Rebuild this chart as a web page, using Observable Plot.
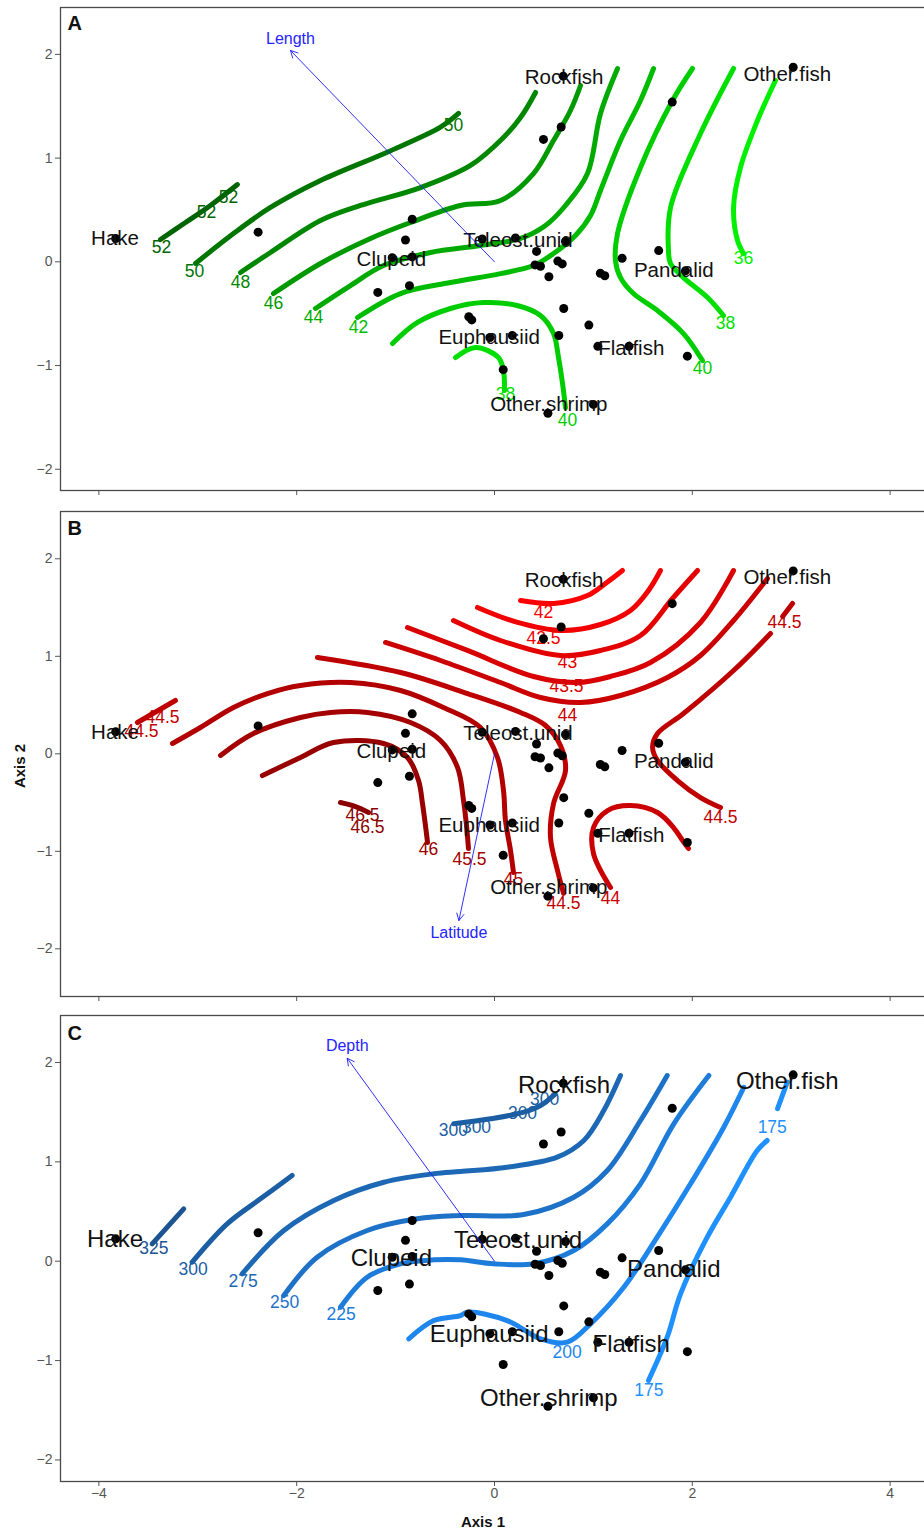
<!DOCTYPE html>
<html>
<head>
<meta charset="utf-8">
<script src="https://cdn.jsdelivr.net/npm/d3@7"></script>
<script src="https://cdn.jsdelivr.net/npm/@observablehq/plot@0.6"></script>
<style>
  body { margin: 0; background: #fff; }
  #fig { position: relative; width: 924px; height: 1535px; overflow: hidden;
         font-family: "Liberation Sans", Arial, Helvetica, sans-serif; }
  #fig svg.panel { position: absolute; left: 0; max-width: none !important; }
  .axis-title { position: absolute; font-weight: bold; font-size: 15px; color: #111;
                white-space: nowrap; line-height: 1; }
</style>
</head>
<body>
<div id="fig"></div>
<script>
// ---- species scores (labels) ----
const SPECIES = ["Hake", "Rockfish", "Other.fish", "Teleost.unid", "Clupeid",
                 "Pandalid", "Euphausiid", "Flatfish", "Other.shrimp"];
const SPECIES_AXIS1 = [-3.837, 0.703, 2.960, 0.238, -1.043, 1.813, -0.054, 1.383, 0.549];
const SPECIES_AXIS2 = [0.222, 1.775, 1.810, 0.210, 0.027, -0.080, -0.734, -0.835, -1.375];

// ---- site scores (black points) ----
const SITE_AXIS1 = [3.02, 1.797, 0.674, 0.495, 0.695, -0.124, 0.212, 0.718, 0.425, 0.41,
                    0.465, 0.64, 0.685, 0.55, 1.07, 1.115, 1.29, 1.66, 1.93, 0.70,
                    0.954, 0.65, 1.045, 1.36, 1.95, -0.26, -0.23, -0.047, 0.18, 0.088,
                    0.54, 1.0, -3.83, -2.39, -0.832, -0.90, -1.034, -0.832, -1.18, -0.86];
const SITE_AXIS2 = [1.876, 1.54, 1.30, 1.18, 1.79, 0.22, 0.23, 0.198, 0.10, -0.03,
                    -0.043, 0.007, -0.02, -0.144, -0.11, -0.134, 0.034, 0.108, -0.087, -0.45,
                    -0.61, -0.71, -0.815, -0.815, -0.91, -0.53, -0.56, -0.73, -0.71, -1.04,
                    -1.46, -1.375, 0.225, 0.286, 0.41, 0.21, 0.04, 0.047, -0.295, -0.23];

// ---- fitted environmental vectors ----
const VECTOR_NAMES = ["Length", "Latitude", "Depth"];
const VECTOR_AXIS1 = [-2.063, -0.360, -1.489];
const VECTOR_AXIS2 = [2.038, -1.710, 2.043];

// ---- fitted surfaces: contour pieces (level, path) ----
const LENGTH_CONTOURS = [
  {level: 52, axis1: [-3.377, -3.124, -2.872, -2.599], axis2: [0.215, 0.379, 0.543, 0.745]},
  {level: 50, axis1: [-3.023, -2.639, -2.265, -1.759, -1.085, -0.546, -0.364], axis2: [-0.016, 0.273, 0.524, 0.784, 1.057, 1.298, 1.430]},
  {level: 48, axis1: [-2.568, -2.265, -1.759, -1.355, -0.748, -0.243, 0.091, 0.263, 0.415], axis2: [-0.103, 0.090, 0.398, 0.543, 0.716, 0.929, 1.199, 1.391, 1.633]},
  {level: 46, axis1: [-2.235, -1.759, -1.254, -0.849, -0.344, 0.061, 0.394, 0.597, 0.768, 0.870], axis2: [-0.306, -0.016, 0.225, 0.379, 0.543, 0.591, 0.851, 1.170, 1.459, 1.700]},
  {level: 44, axis1: [-1.810, -1.456, -1.122, -0.647, -0.142, 0.263, 0.516, 0.718, 0.940, 1.072, 1.244], axis2: [-0.450, -0.229, -0.036, 0.090, 0.157, 0.225, 0.350, 0.543, 0.851, 1.430, 1.864]},
  {level: 42, axis1: [-1.385, -0.950, -0.445, 0.061, 0.394, 0.597, 0.819, 0.971, 1.072, 1.274, 1.476, 1.608], axis2: [-0.537, -0.306, -0.200, -0.114, -0.036, 0.080, 0.254, 0.446, 0.688, 1.170, 1.555, 1.864]},
  {level: 40, axis1: [-1.031, -0.779, -0.445, -0.111, 0.229, 0.465, 0.597, 0.647, 0.688, 0.718], axis2: [-0.788, -0.585, -0.450, -0.393, -0.421, -0.518, -0.692, -0.923, -1.174, -1.407]},
  {level: 40, axis1: [2.002, 1.800, 1.476, 1.244, 1.223, 1.274, 1.405, 1.648, 1.911, 2.103], axis2: [1.864, 1.555, 0.909, 0.273, 0.013, -0.152, -0.306, -0.470, -0.692, -0.952]},
  {level: 38, axis1: [-0.394, -0.192, 0.040, 0.091, 0.101], axis2: [-0.923, -0.826, -0.923, -1.054, -1.242]},
  {level: 38, axis1: [2.417, 2.083, 1.780, 1.759, 1.780, 1.911, 2.154, 2.315], axis2: [1.864, 1.237, 0.524, 0.109, -0.016, -0.152, -0.344, -0.518]},
  {level: 36, axis1: [2.841, 2.659, 2.487, 2.417, 2.457, 2.518], axis2: [1.748, 1.362, 0.909, 0.524, 0.205, 0.080]}
];
const LENGTH_LABEL_LEVEL = [52, 52, 52, 50, 50, 48, 46, 44, 42, 40, 40, 38, 38, 36];
const LENGTH_LABEL_AXIS1 = [-3.367, -2.912, -2.690, -3.033, -0.415, -2.568, -2.235, -1.830, -1.375, 0.738, 2.103, 0.111, 2.336, 2.518];
const LENGTH_LABEL_AXIS2 = [0.138, 0.475, 0.620, -0.094, 1.314, -0.200, -0.402, -0.537, -0.634, -1.532, -1.029, -1.280, -0.595, 0.032];

const LATITUDE_CONTOURS = [
  {level: 42, axis1: [0.263, 0.597, 0.940, 1.122, 1.294], axis2: [1.572, 1.542, 1.624, 1.747, 1.880]},
  {level: 42.5, axis1: [-0.172, 0.233, 0.667, 1.072, 1.375, 1.557, 1.678], axis2: [1.501, 1.347, 1.265, 1.326, 1.470, 1.675, 1.880]},
  {level: 43, axis1: [-0.415, 0.061, 0.667, 1.072, 1.476, 1.800, 2.053], axis2: [1.367, 1.162, 1.008, 1.060, 1.213, 1.593, 1.880]},
  {level: 43.5, axis1: [-0.880, -0.273, 0.394, 0.839, 1.173, 1.577, 2.083, 2.417], axis2: [1.295, 1.060, 0.793, 0.731, 0.793, 0.936, 1.347, 1.880]},
  {level: 44, axis1: [-1.102, -0.546, 0.061, 0.465, 0.870, 1.274, 1.749, 2.083, 2.417, 2.760], axis2: [1.142, 0.957, 0.731, 0.577, 0.526, 0.598, 0.783, 1.008, 1.367, 1.798]},
  {level: 44.5, axis1: [-1.790, -0.950, -0.273, 0.263, 0.516, 0.667, 0.718, 0.597, 0.566, 0.637, 0.698], axis2: [0.988, 0.834, 0.618, 0.424, 0.290, 0.085, -0.171, -0.510, -0.858, -1.197, -1.432]},
  {level: 44.5, axis1: [3.013, 2.913], axis2: [1.542, 1.408]},
  {level: 44.5, axis1: [2.791, 2.417, 1.911, 1.648, 1.598, 1.648, 1.850, 2.083, 2.285], axis2: [1.234, 0.854, 0.413, 0.208, 0.065, -0.068, -0.274, -0.449, -0.551]},
  {level: 44.5, axis1: [-3.610, -3.226], axis2: [0.321, 0.547]},
  {level: 44, axis1: [1.173, 1.001, 1.001, 1.143, 1.375, 1.648, 1.810, 1.901, 1.962], axis2: [-1.371, -1.023, -0.756, -0.582, -0.531, -0.602, -0.756, -0.889, -0.971]},
  {level: 45, axis1: [-3.256, -2.973, -2.639, -2.295, -1.962, -1.456, -0.950, -0.516, -0.142, 0.030, 0.091, 0.111, 0.162, 0.192], axis2: [0.106, 0.270, 0.475, 0.618, 0.701, 0.731, 0.649, 0.475, 0.270, -0.038, -0.377, -0.684, -0.992, -1.217]},
  {level: 45.5, axis1: [-2.770, -2.437, -1.962, -1.658, -1.284, -0.849, -0.546, -0.374, -0.313, -0.283, -0.263], axis2: [-0.017, 0.208, 0.372, 0.424, 0.424, 0.321, 0.136, -0.140, -0.479, -0.735, -0.971]},
  {level: 46, axis1: [-2.346, -1.962, -1.628, -1.122, -0.880, -0.768, -0.728, -0.698, -0.677], axis2: [-0.223, -0.038, 0.116, 0.106, -0.038, -0.274, -0.510, -0.735, -0.910]},
  {level: 46.5, axis1: [-1.557, -1.405, -1.274], axis2: [-0.500, -0.541, -0.602]}
];
const LATITUDE_LABEL_LEVEL = [42, 42.5, 43, 43.5, 44, 44.5, 44.5, 46.5, 46.5, 46, 45.5, 45, 44.5, 44, 44.5, 44.5];
const LATITUDE_LABEL_AXIS1 = [0.495, 0.495, 0.738, 0.728, 0.738, 2.932, 2.285, -1.335, -1.284, -0.667, -0.253, 0.192, 0.698, 1.173, -3.357, -3.569];
const LATITUDE_LABEL_AXIS2 = [1.449, 1.183, 0.936, 0.690, 0.393, 1.347, -0.653, -0.633, -0.756, -0.982, -1.084, -1.289, -1.535, -1.483, 0.372, 0.229];

const DEPTH_CONTOURS = [
  {level: 325, axis1: [-3.461, -3.142], axis2: [0.175, 0.527]},
  {level: 300, axis1: [-3.057, -2.703, -2.366, -2.046], axis2: [-0.010, 0.376, 0.628, 0.863]},
  {level: 300, axis1: [-0.412, -0.040, 0.296, 0.465, 0.610], axis2: [1.383, 1.433, 1.500, 1.567, 1.680]},
  {level: 275, axis1: [-2.551, -2.130, -1.625, -1.119, -0.614, -0.344, 0.128, 0.634, 0.903, 1.105, 1.274], axis2: [-0.127, 0.309, 0.611, 0.795, 0.880, 0.903, 0.946, 1.047, 1.215, 1.517, 1.869]},
  {level: 250, axis1: [-2.130, -1.793, -1.287, -0.782, -0.344, 0.296, 0.802, 1.140, 1.476, 1.746], axis2: [-0.345, 0.040, 0.309, 0.427, 0.460, 0.470, 0.644, 0.913, 1.416, 1.869]},
  {level: 225, axis1: [-1.557, -1.287, -0.950, -0.614, -0.344, -0.007, 0.397, 0.802, 1.140, 1.476, 1.813, 2.167], axis2: [-0.463, -0.161, -0.026, 0.014, 0.014, -0.026, -0.026, 0.108, 0.376, 0.779, 1.383, 1.869]},
  {level: 200, axis1: [-0.867, -0.614, -0.344, -0.276, 0.128, 0.465, 0.735, 0.971, 1.307, 1.645, 1.982, 2.318, 2.521], axis2: [-0.781, -0.597, -0.547, -0.513, -0.597, -0.781, -0.815, -0.630, -0.262, 0.242, 0.779, 1.349, 1.751]},
  {level: 175, axis1: [2.960, 2.862], axis2: [1.802, 1.536]},
  {level: 175, axis1: [2.757, 2.656, 2.386, 2.151, 1.881, 1.746, 1.557], axis2: [1.215, 1.114, 0.644, 0.242, -0.328, -0.765, -1.200]}
];
const DEPTH_LABEL_LEVEL = [325, 300, 275, 250, 225, 200, 175, 175, 300, 300, 300, 300];
const DEPTH_LABEL_AXIS1 = [-3.445, -3.047, -2.541, -2.123, -1.550, 0.735, 2.808, 1.560, -0.415, -0.182, 0.283, 0.506];
const DEPTH_LABEL_AXIS2 = [0.125, -0.087, -0.201, -0.419, -0.536, -0.916, 1.349, -1.301, 1.316, 1.349, 1.484, 1.628];

// ---- axis ticks ----
const X_TICKS = [-4, -2, 0, 2, 4];
const Y_TICKS = [-2, -1, 0, 1, 2];

// level -> colour ramps for each surface
const greenOf = lv => d3.interpolateRgb("#006400", "#00f000")((52 - lv) / 16);
const redOf = lv => d3.interpolateRgb("#8b0000", "#ff0000")((46.5 - lv) / 4.5);
const blueOf = lv => d3.interpolateRgb("#1b5490", "#1e90ff")((325 - lv) / 150);

const FONT = '"Liberation Sans", Arial, Helvetica, sans-serif';
const minusFmt = d => (d < 0 ? "\u2212" + Math.abs(d) : String(d));

const species = SPECIES.map((name, i) => ({name, a1: SPECIES_AXIS1[i], a2: SPECIES_AXIS2[i]}));
const sites = SITE_AXIS1.map((a1, i) => ({a1, a2: SITE_AXIS2[i]}));

function makeLabels(levels, xs, ys) {
  return levels.map((level, i) => ({level, a1: xs[i], a2: ys[i]}));
}

function drawPanel(cfg) {
  const vec = {name: VECTOR_NAMES[cfg.vector], a1: VECTOR_AXIS1[cfg.vector], a2: VECTOR_AXIS2[cfg.vector]};
  const marks = [];
  // contour lines first, then their level labels
  for (const c of cfg.contours) {
    const pts = c.axis1.map((v, i) => ({a1: v, a2: c.axis2[i]}));
    marks.push(Plot.line(pts, {
      x: "a1", y: "a2", stroke: cfg.color(c.level), strokeWidth: 5,
      curve: "catmull-rom", strokeLinecap: "round", strokeLinejoin: "round"
    }));
  }
  marks.push(
    Plot.text(cfg.labels, {x: "a1", y: "a2", text: d => String(d.level),
      fill: d => cfg.color(d.level), fontSize: 17.5}),
    // sites and species scores on top of the surface
    Plot.dot(sites, {x: "a1", y: "a2", r: 4.5, fill: "#000", stroke: null}),
    Plot.text(species, {x: "a1", y: "a2", text: "name", fontSize: cfg.speciesSize, fill: "#111"}),
    // fitted vector
    Plot.arrow([vec], {x1: () => 0, y1: () => 0, x2: "a1", y2: "a2",
      stroke: "#1a1aff", strokeWidth: 0.9, headLength: 13, headAngle: 55}),
    Plot.text([vec], {x: "a1", y: "a2", text: "name", dy: vec.a2 > 0 ? -12 : 12,
      fill: "#2424ff", fontSize: 16}),
    Plot.text([cfg.letter], {frameAnchor: "top-left", text: d => d, dx: 7, dy: cfg.letterDy,
      fontWeight: "bold", fontSize: 20, fill: "#111"}),
    Plot.frame({stroke: "#4a4a4a", strokeWidth: 1.3})
  );
  const svg = Plot.plot({
    width: 940,
    height: cfg.height,
    marginLeft: 60,
    marginRight: 12,
    marginTop: cfg.marginTop,
    marginBottom: cfg.marginBottom,
    style: {fontFamily: FONT, fontSize: "14px", color: "#555", background: "transparent", overflow: "visible"},
    color: {type: "identity"},
    x: {domain: [-4.388, 4.388], ticks: X_TICKS, tickSize: 5, tickPadding: 2,
        tickFormat: cfg.xLabels ? minusFmt : () => "", label: null},
    y: {domain: cfg.yDomain, ticks: Y_TICKS, tickSize: 5, tickPadding: 3,
        tickFormat: minusFmt, label: null},
    marks
  });
  svg.classList.add("panel");
  svg.style.top = cfg.top + "px";
  svg.style.width = "940px";
  svg.style.height = cfg.height + "px";
  svg.style.maxWidth = "none";
  document.getElementById("fig").appendChild(svg);
}

drawPanel({
  top: 0, height: 500, marginTop: 7, marginBottom: 10, yDomain: [-2.205, 2.452],
  contours: LENGTH_CONTOURS,
  labels: makeLabels(LENGTH_LABEL_LEVEL, LENGTH_LABEL_AXIS1, LENGTH_LABEL_AXIS2),
  color: greenOf, speciesSize: 20.5, vector: 0, letter: "A", letterDy: 8, xLabels: false
});
drawPanel({
  top: 504, height: 502, marginTop: 7, marginBottom: 10, yDomain: [-2.489, 2.485],
  contours: LATITUDE_CONTOURS,
  labels: makeLabels(LATITUDE_LABEL_LEVEL, LATITUDE_LABEL_AXIS1, LATITUDE_LABEL_AXIS2),
  color: redOf, speciesSize: 20.5, vector: 1, letter: "B", letterDy: 9, xLabels: false
});
drawPanel({
  top: 1008, height: 527, marginTop: 7, marginBottom: 54, yDomain: [-2.217, 2.473],
  contours: DEPTH_CONTOURS,
  labels: makeLabels(DEPTH_LABEL_LEVEL, DEPTH_LABEL_AXIS1, DEPTH_LABEL_AXIS2),
  color: blueOf, speciesSize: 24, vector: 2, letter: "C", letterDy: 10, xLabels: true
});

// shared axis titles
const fig = document.getElementById("fig");
const t1 = document.createElement("div");
t1.className = "axis-title";
t1.textContent = "Axis 1";
t1.style.left = "483px"; t1.style.top = "1521px";
t1.style.transform = "translate(-50%, -50%)";
fig.appendChild(t1);
const t2 = document.createElement("div");
t2.className = "axis-title";
t2.textContent = "Axis 2";
t2.style.left = "19px"; t2.style.top = "766px";
t2.style.transform = "translate(-50%, -50%) rotate(-90deg)";
fig.appendChild(t2);
</script>
</body>
</html>
